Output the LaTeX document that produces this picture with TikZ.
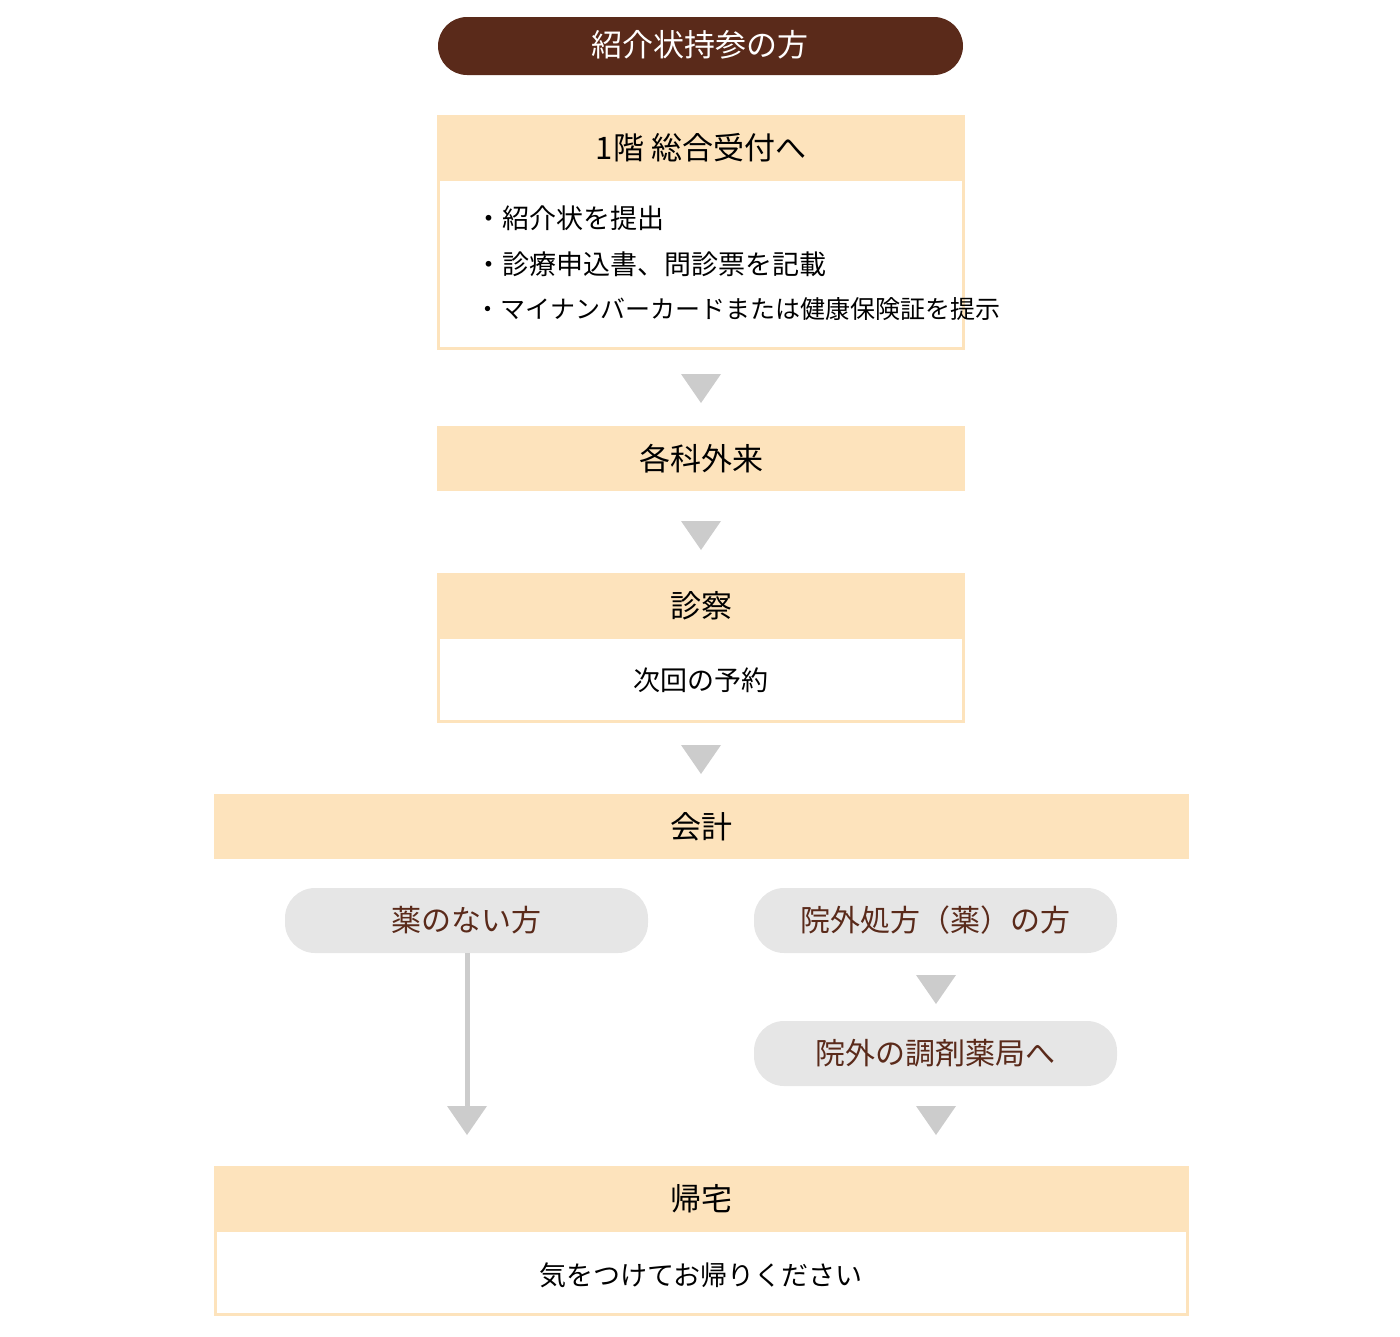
\documentclass[tikz,border=0pt]{standalone}
\usepackage{fontspec}
\newfontfamily\jp{Noto Sans CJK JP}
\definecolor{brn}{HTML}{5A2A1A}
\definecolor{peach}{HTML}{FDE3BC}
\definecolor{gr}{HTML}{E6E6E6}
\definecolor{tri}{HTML}{CCCCCC}
\begin{document}
\begin{tikzpicture}[x=1pt,y=-1pt,
  hdr/.style={fill=peach,draw=none},
  bodyb/.style={draw=peach,line width=3pt,fill=white},
  pill/.style={fill=gr,rounded corners=30pt},
  ttl/.style={font=\jp\fontsize{31}{36}\selectfont,text=black},
  ptx/.style={font=\jp\fontsize{30}{36}\selectfont,text=brn},
  btx/.style={font=\jp\fontsize{27}{34}\selectfont,text=black}]
\useasboundingbox (0,0) rectangle (1400,1336);
\newcommand{\tridown}[2]{\fill[tri] (#1-20,#2) -- (#1+20,#2) -- (#1,#2+29) -- cycle;}
% top pill
\fill[brn,rounded corners=29pt] (438,17) rectangle (963,75);
\node[font=\jp\fontsize{31}{36}\selectfont,text=white] (top) at (700,45) {紹介状持参の方};
% box1
\draw[bodyb] (438.5,116.5) rectangle (963.5,348.5);
\fill[hdr] (437,115) rectangle (965,181);
\node[ttl] (h1) at (701,148) {1階\ 総合受付へ};
\node[btx,anchor=west] (l1) at (472,218) {・紹介状を提出};
\node[btx,anchor=west] (l2) at (472,264) {・診療申込書、問診票を記載};
\node[btx,anchor=west,font=\jp\fontsize{25}{30}\selectfont] (l3) at (472,309) {・マイナンバーカードまたは健康保険証を提示};
\tridown{701}{374}
% 各科外来
\fill[hdr] (437,426) rectangle (965,491);
\node[ttl] (h2) at (701,459) {各科外来};
\tridown{701}{521}
% 診察
\draw[bodyb] (438.5,574.5) rectangle (963.5,721.5);
\fill[hdr] (437,573) rectangle (965,639);
\node[ttl] (h3) at (701,606) {診察};
\node[btx] (b3) at (701,680) {次回の予約};
\tridown{701}{745}
% 会計
\fill[hdr] (214,794) rectangle (1189,859);
\node[ttl] (h4) at (701,827) {会計};
% pills
\fill[pill] (285,888) rectangle (648,953);
\node[ptx] (p1) at (466,920) {薬のない方};
\fill[pill] (754,888) rectangle (1117,953);
\node[ptx] (p2) at (935,920) {院外処方（薬）の方};
\tridown{936}{975}
\fill[pill] (754,1021) rectangle (1117,1086);
\node[ptx] (p3) at (935,1053) {院外の調剤薬局へ};
\coordinate (le) at (467,1108);
\draw[tri,line width=5pt] (467,953) -- (le);
\tridown{467}{1106}
\tridown{936}{1106}
% 帰宅
\draw[bodyb] (215.5,1167.5) rectangle (1187.5,1314.5);
\fill[hdr] (214,1166) rectangle (1189,1232);
\node[ttl] (h5) at (701,1199) {帰宅};
\node[btx] (b5) at (701,1275) {気をつけてお帰りください};
\end{tikzpicture}
\end{document}
